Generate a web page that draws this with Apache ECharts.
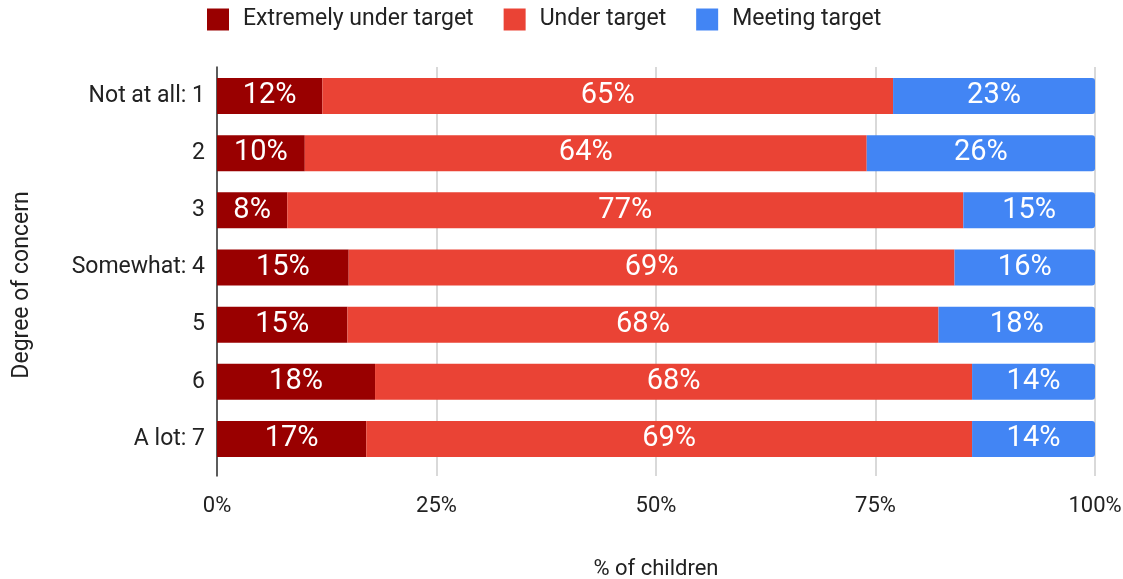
<!DOCTYPE html>
<html>
<head>
<meta charset="utf-8">
<script src="https://cdn.jsdelivr.net/npm/echarts@6/dist/echarts.min.js"></script>
<style>
  html, body { margin: 0; padding: 0; background: #fff; }
  #chart { width: 1123px; height: 579px; }
</style>
</head>
<body>
<div id="chart"></div>
<script>
// Degree of concern, top to bottom
const categories = ['Not at all: 1', '2', '3', 'Somewhat: 4', '5', '6', 'A lot: 7'];
// Share of children (%) in each group
const extremelyUnder = [12, 10, 8, 15, 15, 18, 17];
const underTarget    = [65, 64, 77, 69, 68, 68, 69];
const meetingTarget  = [23, 26, 15, 16, 18, 14, 14];
const seriesNames = ['Extremely under target', 'Under target', 'Meeting target'];
const xTicks = ['0%', '25%', '50%', '75%', '100%'];

const groups = [extremelyUnder, underTarget, meetingTarget];
// rows are stacked to 100%, so each value is taken as a share of its row total
const totals = categories.map((_, i) => groups.reduce((s, g) => s + g[i], 0));
const colors = ['#990000', '#EA4335', '#4285F4'];
const font = 'Roboto, "Noto Sans", sans-serif';

const series = groups.map((g, k) => ({
  name: seriesNames[k],
  type: 'bar',
  stack: 'total',
  xAxisIndex: 1,
  yAxisIndex: 1,
  barWidth: '63%',
  itemStyle: {
    color: colors[k],
    borderRadius: k === groups.length - 1 ? [0, 3, 3, 0] : 0
  },
  label: {
    show: true,
    position: 'inside',
    color: '#fff',
    fontFamily: font,
    fontSize: 29,
    formatter: p => g[p.dataIndex] + '%'
  },
  data: g.map((v, i) => ({ value: v / totals[i] * 100 }))
}));

const chart = echarts.init(document.getElementById('chart'), null, { renderer: 'canvas' });
chart.setOption({
  animation: false,
  textStyle: { fontFamily: font },
  legend: {
    top: 8,
    left: 207,
    padding: 0,
    itemWidth: 22,
    itemHeight: 22,
    itemGap: 30,
    icon: 'rect',
    textStyle: { fontSize: 23, color: '#222', fontFamily: font, padding: [2, 0, 0, 9] },
    data: seriesNames
  },
  grid: [
    // frame: gridlines, x ticks and the vertical axis line
    { left: 217, right: 28, top: 67, bottom: 103, containLabel: false, outerBoundsMode: 'none' },
    // bar rows
    { left: 217, right: 28, top: 67.4, bottom: 111.4, containLabel: false, outerBoundsMode: 'none' }
  ],
  xAxis: [
    {
      gridIndex: 0,
      type: 'value',
      min: 0,
      max: 100,
      interval: 25,
      name: '% of children',
      nameLocation: 'middle',
      nameGap: 82,
      nameTextStyle: { fontSize: 22, color: '#222', fontFamily: font },
      axisLine: { show: false },
      axisTick: { show: false },
      splitLine: { lineStyle: { color: '#cccccc', width: 1.5 } },
      axisLabel: {
        fontSize: 22,
        color: '#222',
        margin: 19,
        formatter: v => xTicks[v / 25]
      }
    },
    {
      gridIndex: 1,
      type: 'value',
      min: 0,
      max: 100,
      show: false
    }
  ],
  yAxis: [
    {
      gridIndex: 0,
      type: 'value',
      min: 0,
      max: 1,
      axisLine: { show: true, onZero: false, lineStyle: { color: '#333', width: 1.5 } },
      axisTick: { show: false },
      axisLabel: { show: false },
      splitLine: { show: false }
    },
    {
      gridIndex: 1,
      type: 'category',
      inverse: true,
      data: categories,
      name: 'Degree of concern',
      nameLocation: 'middle',
      nameGap: 183,
      nameRotate: 90,
      nameTextStyle: { fontSize: 23, color: '#222', fontFamily: font, padding: [0, 35, 0, 0] },
      axisLine: { show: false },
      axisTick: { show: false },
      axisLabel: { fontSize: 23, color: '#222', margin: 12 }
    }
  ],
  series: series
});
</script>
</body>
</html>
